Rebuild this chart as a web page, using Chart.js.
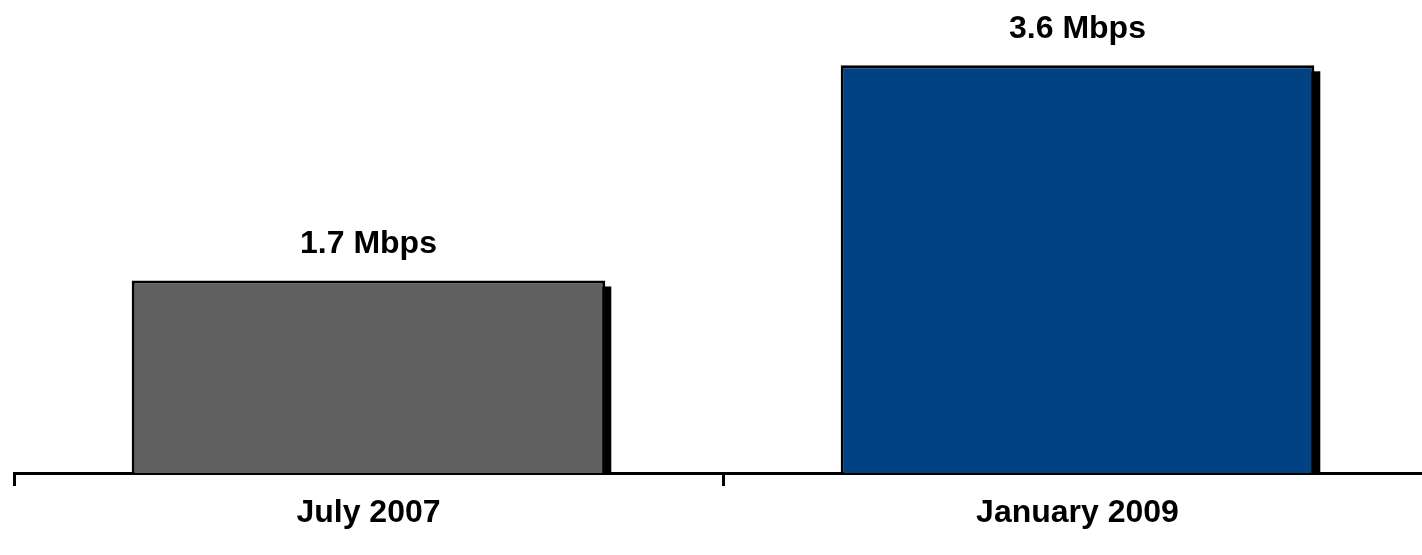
<!DOCTYPE html>
<html>
<head>
<meta charset="utf-8">
<script src="https://cdn.jsdelivr.net/npm/chart.js@4/dist/chart.umd.min.js"></script>
<style>
  html, body { margin: 0; padding: 0; background: #fff; overflow: hidden; }
  #wrap { width: 1422px; height: 555px; overflow: hidden; }
  #chart-container { width: 1440px; height: 555px; }
</style>
</head>
<body>
<div id="wrap"><div id="chart-container"><canvas id="speedChart"></canvas></div></div>
<script>
const categories = ['July 2007', 'January 2009'];
const speeds = [1.7, 3.6];
const valueLabels = ['1.7 Mbps', '3.6 Mbps'];
const barColors = ['#606060', '#004282'];

// drop shadow behind each bar + value label above it
const barExtras = {
  id: 'barExtras',
  beforeDatasetsDraw(chart) {
    const ctx = chart.ctx;
    const meta = chart.getDatasetMeta(0);
    ctx.save();
    ctx.fillStyle = '#000';
    meta.data.forEach(bar => {
      const left = bar.x - bar.width / 2;
      ctx.fillRect(left + 6, bar.y + 6, bar.width, bar.base - bar.y - 6);
    });
    ctx.restore();
  },
  afterDatasetsDraw(chart) {
    const ctx = chart.ctx;
    const meta = chart.getDatasetMeta(0);
    ctx.save();
    ctx.fillStyle = '#000';
    ctx.font = 'bold 32px "Liberation Sans", Arial, sans-serif';
    ctx.textAlign = 'center';
    ctx.textBaseline = 'middle';
    meta.data.forEach((bar, i) => {
      ctx.fillText(valueLabels[i], bar.x, bar.y - 36);
    });
    ctx.restore();
  }
};

const ctx = document.getElementById('speedChart').getContext('2d');
new Chart(ctx, {
  type: 'bar',
  data: {
    labels: categories,
    datasets: [{
      data: speeds,
      backgroundColor: barColors,
      borderColor: '#000',
      borderWidth: 3,
      categoryPercentage: 0.668,
      barPercentage: 1.0
    }]
  },
  options: {
    responsive: true,
    maintainAspectRatio: false,
    animation: false,
    layout: { padding: { left: 14, right: 8, top: 20, bottom: 0 } },
    plugins: { legend: { display: false }, tooltip: { enabled: false } },
    scales: {
      x: {
        offset: true,
        grid: {
          offset: true,
          drawOnChartArea: false,
          drawTicks: true,
          tickLength: 13,
          tickColor: '#000',
          tickWidth: 3
        },
        border: { display: true, color: '#000', width: 3 },
        ticks: {
          color: '#000',
          padding: 8,
          font: { family: '"Liberation Sans", Arial, sans-serif', size: 32, weight: 'bold' }
        },
        afterFit(axis) { axis.height = 82; }
      },
      y: {
        display: false,
        min: 0,
        max: 4.0
      }
    }
  },
  plugins: [barExtras]
});
</script>
</body>
</html>
